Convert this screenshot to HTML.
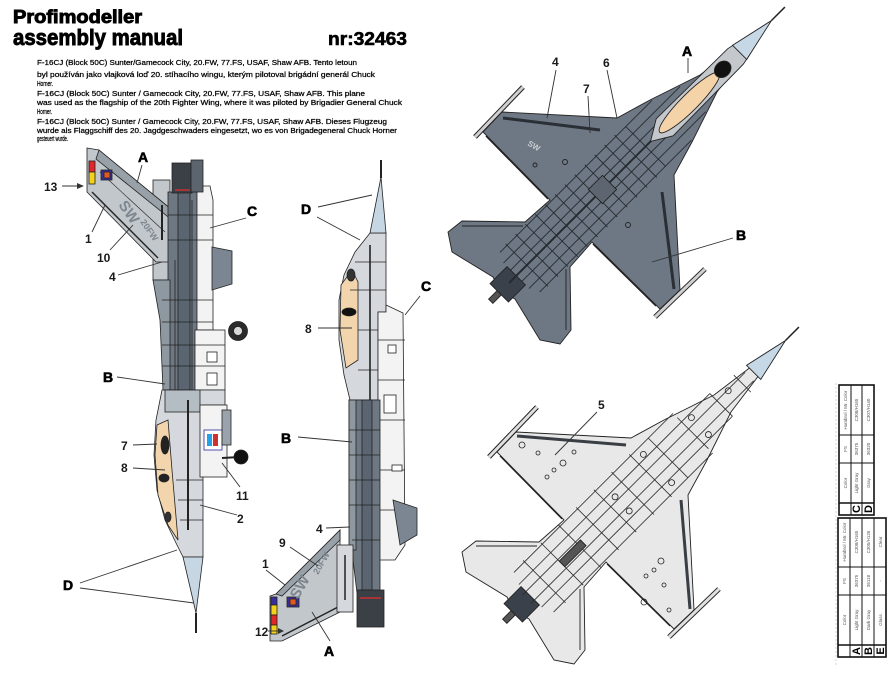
<!DOCTYPE html>
<html><head><meta charset="utf-8">
<style>
html,body{margin:0;padding:0;background:#fff;}
svg{display:block;}
text{font-family:"Liberation Sans",sans-serif;}
</style></head><body>
<svg width="894" height="673" viewBox="0 0 894 673" xmlns="http://www.w3.org/2000/svg">
<rect width="894" height="673" fill="#fff"/>

<!-- HEADER -->
<text x="13" y="23" font-size="18" font-weight="bold" stroke="#000" stroke-width="0.9" textLength="129" lengthAdjust="spacingAndGlyphs">Profimodeller</text>
<text x="13" y="45" font-size="22" font-weight="bold" stroke="#000" stroke-width="0.9" textLength="170" lengthAdjust="spacingAndGlyphs">assembly manual</text>
<text x="328" y="45" font-size="18" font-weight="bold" stroke="#000" stroke-width="0.6" textLength="79" lengthAdjust="spacingAndGlyphs">nr:32463</text>

<!-- DESCRIPTION -->
<g font-size="7.2" fill="#000" stroke="#000" stroke-width="0.25">
<text x="37" y="65" textLength="320" lengthAdjust="spacingAndGlyphs">F-16CJ (Block 50C) Sunter/Gamecock City, 20.FW, 77.FS, USAF, Shaw AFB. Tento letoun</text>
<text x="37" y="77" textLength="338" lengthAdjust="spacingAndGlyphs">byl používán jako vlajková loď 20. stíhacího wingu, kterým pilotoval brigádní generál Chuck</text>
<text x="37" y="86" textLength="16" lengthAdjust="spacingAndGlyphs">Horner.</text>
<text x="37" y="96" textLength="328" lengthAdjust="spacingAndGlyphs">F-16CJ (Block 50C) Sunter / Gamecock City, 20.FW, 77.FS, USAF, Shaw AFB. This plane</text>
<text x="37" y="105" textLength="365" lengthAdjust="spacingAndGlyphs">was used as the flagship of the 20th Fighter Wing, where it was piloted by Brigadier General Chuck</text>
<text x="37" y="114" textLength="15" lengthAdjust="spacingAndGlyphs">Horner.</text>
<text x="37" y="124" textLength="350" lengthAdjust="spacingAndGlyphs">F-16CJ (Block 50C) Sunter / Gamecock City, 20.FW, 77.FS, USAF, Shaw AFB. Dieses Flugzeug</text>
<text x="37" y="133" textLength="360" lengthAdjust="spacingAndGlyphs">wurde als Flaggschiff des 20. Jagdgeschwaders eingesetzt, wo es von Brigadegeneral Chuck Horner</text>
<text x="37" y="141" textLength="31" lengthAdjust="spacingAndGlyphs">gesteuert wurde.</text>
</g>

<!-- ============ LEFT SIDE VIEW (nose down) ============ -->
<g stroke="#222" stroke-width="0.8">
  <!-- fin root box -->
  <rect x="153" y="180" width="17" height="100" fill="#c2c7cc"/>
  <!-- fin -->
  <polygon points="87,148 99,150 172,210 172,262 156,262 91,196 87,192" fill="#c2c7cc"/>
  <polygon points="99,150 172,210 172,220 96,159" fill="#98a0a8"/>
  <line x1="92" y1="192" x2="158" y2="258" stroke-width="1.4"/>
  <line x1="100" y1="172" x2="165" y2="232" stroke-width="0.6"/>
  <rect x="89" y="161" width="6" height="11" fill="#e3262a"/>
  <rect x="89" y="172" width="6" height="12" fill="#f2d21a"/>
  <rect x="101" y="170" width="11" height="10" fill="#3a2f9a"/>
  <rect x="104" y="172" width="6" height="6" fill="#e05a20"/>
  <line x1="162" y1="205" x2="162" y2="240" stroke-width="2"/>
  <!-- main rear fuselage -->
  <rect x="168" y="192" width="30" height="198" fill="#6e7882"/>
  <polygon points="153,280 170,280 170,390 163,390 160,320" fill="#8e98a0"/>
  <rect x="178" y="192" width="12" height="198" fill="#5a6571"/>
  <polygon points="197,192 200,186 210,186 213,200 213,330 197,330" fill="#f3f3f3"/>
  <rect x="195" y="330" width="30" height="60" fill="#f3f3f3"/>
  <!-- exhaust -->
  <rect x="172" y="163" width="20" height="30" fill="#3b4046"/>
  <line x1="175" y1="190" x2="190" y2="190" stroke="#c83030" stroke-width="1.5"/>
  <rect x="191" y="160" width="12" height="32" fill="#5c656d"/>
  <!-- ventral fin -->
  <polygon points="212,247 232,251 232,284 212,290" fill="#7b8692"/>
  <!-- panel lines -->
  <g stroke="#222" stroke-width="0.8">
    <line x1="168" y1="215" x2="213" y2="215"/><line x1="168" y1="240" x2="213" y2="240"/>
    <line x1="162" y1="300" x2="213" y2="300"/><line x1="162" y1="322" x2="213" y2="322"/>
    <line x1="162" y1="345" x2="225" y2="345"/><line x1="162" y1="366" x2="225" y2="366"/>
    <line x1="175" y1="260" x2="175" y2="390"/><line x1="192" y1="200" x2="192" y2="390"/>
  </g>
  <!-- main wheel -->
  <circle cx="238" cy="331" r="9.5" fill="#2b2b2b"/>
  <circle cx="238" cy="331" r="4.5" fill="#d8d8d8"/>
  <rect x="207" y="352" width="10" height="10" fill="#fff"/>
  <rect x="207" y="373" width="10" height="12" fill="#fff"/>
  <!-- forward fuselage -->
  <polygon points="162,390 225,390 225,405 203,405 203,557 183,557 176,543 165,520 157,490 154,455 156,420" fill="#d5d9dd"/>
  <rect x="165" y="390" width="35" height="22" fill="#b4bcc4"/>
  <polygon points="157,425 168,420 172,470 178,540 168,525 158,495 155,455" fill="#f3d5ad"/>
  <ellipse cx="165" cy="445" rx="4" ry="9" fill="#222"/>
  <ellipse cx="164" cy="478" rx="5" ry="4" fill="#222"/>
  <ellipse cx="168" cy="517" rx="3" ry="5" fill="#333"/>
  <line x1="188" y1="400" x2="188" y2="530" stroke-width="2"/>
  <line x1="176" y1="480" x2="203" y2="480"/><line x1="178" y1="500" x2="203" y2="500"/>
  <line x1="180" y1="520" x2="203" y2="520"/>
  <!-- nose cone -->
  <polygon points="183,557 203,557 196,613" fill="#c7d6e3"/>
  <line x1="196" y1="613" x2="196" y2="633" stroke-width="2"/>
  <!-- nose gear area -->
  <rect x="200" y="405" width="27" height="72" fill="#f3f3f3"/>
  <rect x="204" y="430" width="18" height="20" fill="#fff" stroke="#2a2a9a"/>
  <rect x="207" y="434" width="5" height="12" fill="#22a0e8" stroke="none"/>
  <rect x="213" y="434" width="5" height="12" fill="#d03030" stroke="none"/>
  <rect x="222" y="410" width="9" height="35" fill="#9aa3ab"/>
  <line x1="222" y1="458" x2="240" y2="457" stroke-width="2"/>
  <circle cx="241" cy="457" r="7" fill="#111"/>
</g>
<text x="118" y="205" font-size="15" font-weight="bold" fill="#7e868e" transform="rotate(55 118 205)">SW</text>
<text x="140" y="222" font-size="9" font-weight="bold" fill="#7e868e" transform="rotate(55 140 222)">20FW</text>

<!-- ============ MIDDLE SIDE VIEW (nose up) ============ -->
<g stroke="#222" stroke-width="0.8">
  <line x1="381" y1="160" x2="381" y2="178" stroke-width="2"/>
  <!-- fin -->
  <polygon points="340,530 276,594 270,596 270,641 282,641 340,612" fill="#c2c7cc"/>
  <polygon points="340,530 276,594 282,596 340,540" fill="#98a0a8"/>
  <line x1="282" y1="636" x2="340" y2="606" stroke-width="1.4"/>
  <rect x="271" y="597" width="6" height="8" fill="#3a2f9a"/>
  <rect x="271" y="605" width="6" height="10" fill="#f2d21a"/>
  <rect x="271" y="615" width="6" height="10" fill="#e3262a"/>
  <rect x="271" y="625" width="6" height="9" fill="#f2d21a"/>
  <rect x="287" y="597" width="12" height="10" fill="#3a2f9a"/>
  <rect x="290" y="599" width="6" height="6" fill="#e05a20"/>
  <!-- forward fuselage -->
  <polygon points="370,233 386,233 386,312 378,312 378,400 350,400 344,375 339,340 339,300 344,275 355,252" fill="#d5d9dd"/>
  <polygon points="341,285 352,270 358,282 358,360 346,368 340,330" fill="#f3d5ad"/>
  <ellipse cx="349" cy="312" rx="7" ry="4" fill="#111"/>
  <ellipse cx="351" cy="275" rx="4" ry="6" fill="#333"/>
  <line x1="370" y1="245" x2="370" y2="400" stroke-width="1.6"/>
  <line x1="355" y1="262" x2="386" y2="262"/><line x1="350" y1="290" x2="386" y2="290"/>
  <line x1="358" y1="330" x2="378" y2="330"/><line x1="358" y1="370" x2="378" y2="370"/>
  <!-- nose cone -->
  <polygon points="381,177 370,233 386,233" fill="#c7d6e3"/>
  <!-- right white section -->
  <polygon points="378,312 386,312 386,305 403,313 405,545 395,560 378,560" fill="#f3f3f3"/>
  <g stroke-width="0.8">
    <line x1="378" y1="340" x2="405" y2="340"/><line x1="378" y1="380" x2="405" y2="380"/>
    <line x1="378" y1="420" x2="405" y2="420"/><line x1="378" y1="470" x2="405" y2="470"/>
    <line x1="378" y1="510" x2="405" y2="510"/>
    <rect x="384" y="395" width="12" height="18" fill="#fff"/>
    <rect x="388" y="345" width="8" height="8" fill="#fff"/>
    <rect x="392" y="465" width="10" height="6" fill="#fff"/>
  </g>
  <!-- lower dark section -->
  <polygon points="349,400 380,400 380,592 357,593 353,560 349,520" fill="#6e7882"/>
  <rect x="349" y="400" width="7" height="150" fill="#8e98a0"/>
  <rect x="362" y="400" width="10" height="190" fill="#5a6571"/>
  <line x1="349" y1="430" x2="380" y2="430"/><line x1="349" y1="455" x2="380" y2="455"/>
  <line x1="349" y1="480" x2="380" y2="480"/><line x1="349" y1="505" x2="380" y2="505"/>
  <line x1="352" y1="540" x2="380" y2="540"/>
  <!-- fin root box -->
  <rect x="337" y="545" width="16" height="67" fill="#d5d9dd"/>
  <line x1="345" y1="555" x2="345" y2="600" stroke-width="1.5"/>
  <!-- ventral fin -->
  <polygon points="393,500 417,508 417,535 400,545" fill="#7b8692"/>
  <!-- exhaust -->
  <rect x="357" y="590" width="27" height="37" fill="#3b4046"/>
  <line x1="360" y1="598" x2="381" y2="598" stroke="#c83030" stroke-width="1.5"/>
</g>
<text x="298" y="600" font-size="15" font-weight="bold" fill="#7e868e" transform="rotate(-60 298 600)">SW</text>
<text x="318" y="575" font-size="9" font-weight="bold" fill="#7e868e" transform="rotate(-60 318 575)">20FW</text>

<!-- ============ TOP-RIGHT AIRCRAFT (upper surface, dark) ============ -->
<g stroke="#222" stroke-width="0.9">
  <polygon points="771,21 700,75 650,100 617,118 502,112 483,132 550,200 525,222 462,221 448,232 452,252 493,277 500,290 502,292 515,299 540,340 560,344 571,330 570,267 592,242 660,309 680,290 674,175 692,142 717,92" fill="#6e7884"/>
  <line x1="503" y1="118" x2="600" y2="130" stroke-width="3" stroke="#2a2f35"/>
  <line x1="486" y1="136" x2="548" y2="199" stroke-width="1.5"/>
  <line x1="674" y1="289" x2="662" y2="192" stroke-width="3" stroke="#2a2f35"/>
  <line x1="656" y1="306" x2="593" y2="244" stroke-width="1.5"/>
  <line x1="462" y1="226" x2="523" y2="226"/>
  <line x1="566" y1="330" x2="566" y2="269"/>
  <line x1="523" y1="87" x2="475" y2="137" stroke-width="5"/>
  <line x1="523" y1="87" x2="475" y2="137" stroke-width="3" stroke="#d0d0d0"/>
  <line x1="705" y1="269" x2="655" y2="317" stroke-width="5"/>
  <line x1="705" y1="269" x2="655" y2="317" stroke-width="3" stroke="#d0d0d0"/>
  <circle cx="565" cy="162" r="2.5" fill="none"/>
  <circle cx="628" cy="225" r="2.5" fill="none"/>
  <circle cx="535" cy="165" r="2" fill="none"/>
  <g transform="translate(396,396) rotate(-45)">
    <rect x="146" y="-13" width="24" height="26" fill="#3a414b"/>
    <rect x="134" y="-3" width="12" height="6" fill="#555"/>
    <g stroke="#262b31" stroke-width="0.9">
      <line x1="175" y1="-28" x2="390" y2="-28"/>
      <line x1="170" y1="-18" x2="420" y2="-18"/>
      <line x1="170" y1="-8" x2="445" y2="-8"/>
      <line x1="160" y1="0" x2="445" y2="0" stroke-width="2"/>
      <line x1="170" y1="8" x2="445" y2="8"/>
      <line x1="170" y1="18" x2="420" y2="18"/>
      <line x1="175" y1="28" x2="390" y2="28"/>
      <line x1="185" y1="-30" x2="185" y2="30"/><line x1="199" y1="-30" x2="199" y2="30"/>
      <line x1="213" y1="-30" x2="213" y2="30"/><line x1="227" y1="-30" x2="227" y2="30"/>
      <line x1="241" y1="-30" x2="241" y2="30"/><line x1="255" y1="-30" x2="255" y2="30"/>
      <line x1="269" y1="-30" x2="269" y2="30"/><line x1="283" y1="-30" x2="283" y2="30"/>
      <line x1="297" y1="-30" x2="297" y2="30"/><line x1="311" y1="-30" x2="311" y2="30"/>
      <line x1="325" y1="-30" x2="325" y2="30"/><line x1="339" y1="-30" x2="339" y2="30"/>
      <line x1="353" y1="-28" x2="353" y2="28"/>
    </g>
    <rect x="282" y="-10" width="20" height="20" fill="#5d6670" stroke="#222"/>
    <polygon points="360,0 380,-12 480,-11 490,-9 490,9 480,11 380,12" fill="#c4c8cc"/>
    <ellipse cx="415" cy="0" rx="42" ry="8.5" fill="#f4d3a8"/>
    <ellipse cx="462" cy="0" rx="9" ry="7.5" fill="#111"/>
    <polygon points="486,-10 531,0 486,10" fill="#c6d7e6"/>
    <line x1="531" y1="0" x2="550" y2="0" stroke-width="1.5"/>
  </g>
</g>
<text x="527" y="145" font-size="8" font-weight="bold" fill="#c8ccd0" transform="rotate(30 527 145)">SW</text>

<!-- ============ BOTTOM-RIGHT AIRCRAFT (lower surface, light) ============ -->
<g transform="translate(14,320)" stroke="#222" stroke-width="0.9">
  <polygon points="771,21 700,75 650,100 617,118 502,112 483,132 550,200 525,222 462,221 448,232 452,252 493,277 500,290 502,292 515,299 540,340 560,344 571,330 570,267 592,242 660,309 680,290 674,175 692,142 717,92" fill="#e8e8e9"/>
  <line x1="503" y1="116" x2="612" y2="125" stroke-width="3" stroke="#3a3f45"/>
  <line x1="486" y1="136" x2="548" y2="199" stroke-width="1.2"/>
  <line x1="676" y1="289" x2="667" y2="180" stroke-width="3" stroke="#3a3f45"/>
  <line x1="656" y1="306" x2="593" y2="244" stroke-width="1.2"/>
  <line x1="462" y1="226" x2="523" y2="226"/>
  <line x1="566" y1="330" x2="566" y2="269"/>
  <line x1="523" y1="87" x2="475" y2="137" stroke-width="5"/>
  <line x1="523" y1="87" x2="475" y2="137" stroke-width="3" stroke="#e0e0e0"/>
  <line x1="705" y1="269" x2="655" y2="317" stroke-width="5"/>
  <line x1="705" y1="269" x2="655" y2="317" stroke-width="3" stroke="#e0e0e0"/>
  <g fill="none" stroke-width="0.8">
    <circle cx="549" cy="143" r="3"/><circle cx="540" cy="150" r="2"/><circle cx="533" cy="157" r="2"/>
    <circle cx="524" cy="133" r="2"/><circle cx="560" cy="132" r="2"/>
    <circle cx="647" cy="241" r="3"/><circle cx="640" cy="250" r="2"/><circle cx="632" cy="256" r="2"/>
    <circle cx="650" cy="265" r="2"/><circle cx="630" cy="282" r="3"/><circle cx="655" cy="290" r="2"/>
    <circle cx="508" cy="125" r="3"/>
  </g>
  <g transform="translate(396,396) rotate(-45)">
    <rect x="146" y="-13" width="24" height="26" fill="#3a414b"/>
    <rect x="134" y="-3" width="12" height="6" fill="#555"/>
    <g stroke="#2a2a2a" stroke-width="0.8">
      <line x1="175" y1="-28" x2="400" y2="-28"/>
      <line x1="170" y1="-16" x2="440" y2="-16"/>
      <line x1="165" y1="-6" x2="480" y2="-6"/>
      <line x1="165" y1="6" x2="480" y2="6"/>
      <line x1="170" y1="16" x2="440" y2="16"/>
      <line x1="175" y1="28" x2="400" y2="28"/>
      <line x1="190" y1="-30" x2="190" y2="30"/><line x1="215" y1="-30" x2="215" y2="30"/>
      <line x1="240" y1="-30" x2="240" y2="30"/><line x1="265" y1="-30" x2="265" y2="30"/>
      <line x1="290" y1="-30" x2="290" y2="30"/><line x1="315" y1="-30" x2="315" y2="30"/>
      <line x1="340" y1="-30" x2="340" y2="30"/><line x1="365" y1="-28" x2="365" y2="28"/>
      <line x1="400" y1="-22" x2="400" y2="22"/><line x1="440" y1="-16" x2="440" y2="16"/>
      <line x1="470" y1="-12" x2="470" y2="12"/>
    </g>
    <rect x="215" y="-4" width="30" height="8" fill="#555" stroke="#222"/>
    <g fill="none" stroke-width="0.8">
      <circle cx="300" cy="-10" r="3"/><circle cx="300" cy="10" r="3"/>
      <circle cx="350" cy="-20" r="3"/><circle cx="350" cy="20" r="3"/>
      <circle cx="410" cy="-12" r="3"/><circle cx="410" cy="12" r="3"/>
      <circle cx="455" cy="-5" r="3"/>
    </g>
    <polygon points="486,-10 531,0 486,10" fill="#c6d7e6"/>
    <line x1="531" y1="0" x2="550" y2="0" stroke-width="1.5"/>
  </g>
</g>

<!-- ============ CALLOUT LINES ============ -->
<g stroke="#333" stroke-width="0.9" fill="none">
  <line x1="62" y1="186" x2="80" y2="186"/>
  <line x1="142" y1="165" x2="137" y2="183"/>
  <line x1="92" y1="232" x2="105" y2="205"/>
  <line x1="110" y1="250" x2="133" y2="225"/>
  <line x1="118" y1="275" x2="162" y2="262"/>
  <line x1="246" y1="218" x2="210" y2="228"/>
  <line x1="117" y1="377" x2="165" y2="384"/>
  <line x1="133" y1="445" x2="157" y2="444"/>
  <line x1="133" y1="468" x2="165" y2="470"/>
  <line x1="240" y1="487" x2="222" y2="463"/>
  <line x1="237" y1="515" x2="200" y2="505"/>
  <line x1="80" y1="583" x2="177" y2="550"/>
  <line x1="80" y1="588" x2="194" y2="603"/>
  <line x1="318" y1="207" x2="372" y2="195"/>
  <line x1="317" y1="217" x2="360" y2="240"/>
  <line x1="420" y1="296" x2="405" y2="315"/>
  <line x1="318" y1="328" x2="352" y2="328"/>
  <line x1="298" y1="437" x2="352" y2="442"/>
  <line x1="326" y1="528" x2="350" y2="527"/>
  <line x1="290" y1="547" x2="318" y2="566"/>
  <line x1="266" y1="570" x2="285" y2="585"/>
  <line x1="268" y1="631" x2="281" y2="631"/>
  <line x1="330" y1="641" x2="312" y2="612"/>
  <line x1="556" y1="70" x2="547" y2="118"/>
  <line x1="607" y1="70" x2="617" y2="118"/>
  <line x1="588" y1="96" x2="590" y2="133"/>
  <line x1="688" y1="58" x2="688" y2="73"/>
  <line x1="733" y1="238" x2="652" y2="262"/>
  <line x1="597" y1="412" x2="555" y2="455"/>
</g>
<polygon points="84,186 77,183 77,189" fill="#333"/>
<polygon points="284,631 278,628 278,634" fill="#333"/>

<!-- ============ LABELS ============ -->
<g font-weight="bold" fill="#1a1a1a">
  <g font-size="12">
    <text x="44" y="191">13</text>
    <text x="85" y="243">1</text>
    <text x="97" y="262">10</text>
    <text x="109" y="281">4</text>
    <text x="121" y="450">7</text>
    <text x="121" y="472">8</text>
    <text x="236" y="500">11</text>
    <text x="237" y="523">2</text>
    <text x="305" y="333">8</text>
    <text x="316" y="533">4</text>
    <text x="279" y="547">9</text>
    <text x="262" y="568">1</text>
    <text x="255" y="636">12</text>
    <text x="552" y="66">4</text>
    <text x="603" y="67">6</text>
    <text x="583" y="93">7</text>
    <text x="598" y="409">5</text>
  </g>
  <g font-size="14" fill="#000" stroke="#000" stroke-width="0.6">
    <text x="138" y="162">A</text>
    <text x="247" y="216">C</text>
    <text x="103" y="382">B</text>
    <text x="63" y="590">D</text>
    <text x="301" y="214">D</text>
    <text x="421" y="291">C</text>
    <text x="281" y="443">B</text>
    <text x="324" y="656">A</text>
    <text x="682" y="56">A</text>
    <text x="736" y="240">B</text>
  </g>
</g>

<!-- ============ COLOR TABLE ============ -->
<line x1="836" y1="383" x2="836" y2="665" stroke="#ccc" stroke-width="0.8" stroke-dasharray="2,2"/>
<g stroke="#111" fill="none">
  <rect x="839" y="385" width="35" height="130" stroke-width="1.6"/>
  <line x1="851" y1="385" x2="851" y2="515"/>
  <line x1="862" y1="385" x2="862" y2="515"/>
  <line x1="839" y1="435" x2="874" y2="435"/>
  <line x1="839" y1="463" x2="874" y2="463"/>
  <line x1="839" y1="503" x2="874" y2="503" stroke-width="1.4"/>
  <rect x="838" y="518" width="48" height="139" stroke-width="1.6"/>
  <line x1="850" y1="518" x2="850" y2="657"/>
  <line x1="862" y1="518" x2="862" y2="657"/>
  <line x1="874" y1="518" x2="874" y2="657"/>
  <line x1="838" y1="567" x2="886" y2="567"/>
  <line x1="838" y1="595" x2="886" y2="595"/>
  <line x1="838" y1="645" x2="886" y2="645" stroke-width="1.4"/>
</g>
<g font-size="11" font-weight="bold" fill="#000" text-anchor="middle">
  <text transform="translate(860,509) rotate(-90)">C</text>
  <text transform="translate(872,509) rotate(-90)">D</text>
  <text transform="translate(860,651) rotate(-90)">A</text>
  <text transform="translate(872,651) rotate(-90)">B</text>
  <text transform="translate(884,651) rotate(-90)">E</text>
</g>
<g font-size="4.5" fill="#555" text-anchor="middle">
  <text transform="translate(847,410) rotate(-90)">Humbrol / Mr. Color</text>
  <text transform="translate(847,449) rotate(-90)">FS</text>
  <text transform="translate(847,483) rotate(-90)">Color</text>
  <text transform="translate(858,410) rotate(-90)">C308/H165</text>
  <text transform="translate(858,449) rotate(-90)">36375</text>
  <text transform="translate(858,483) rotate(-90)">Light Gray</text>
  <text transform="translate(870,410) rotate(-90)">C307/H140</text>
  <text transform="translate(870,449) rotate(-90)">36320</text>
  <text transform="translate(870,483) rotate(-90)">Gray</text>
  <text transform="translate(846,542) rotate(-90)">Humbrol / Mr. Color</text>
  <text transform="translate(846,581) rotate(-90)">FS</text>
  <text transform="translate(846,620) rotate(-90)">Color</text>
  <text transform="translate(858,542) rotate(-90)">C308/H165</text>
  <text transform="translate(858,581) rotate(-90)">36375</text>
  <text transform="translate(858,620) rotate(-90)">Light Gray</text>
  <text transform="translate(870,542) rotate(-90)">C305/H126</text>
  <text transform="translate(870,581) rotate(-90)">36118</text>
  <text transform="translate(870,620) rotate(-90)">Dark Gray</text>
  <text transform="translate(882,542) rotate(-90)">Clear</text>
  <text transform="translate(882,581) rotate(-90)">-</text>
  <text transform="translate(882,620) rotate(-90)">Glass</text>
</g>
</svg>
</body></html>
